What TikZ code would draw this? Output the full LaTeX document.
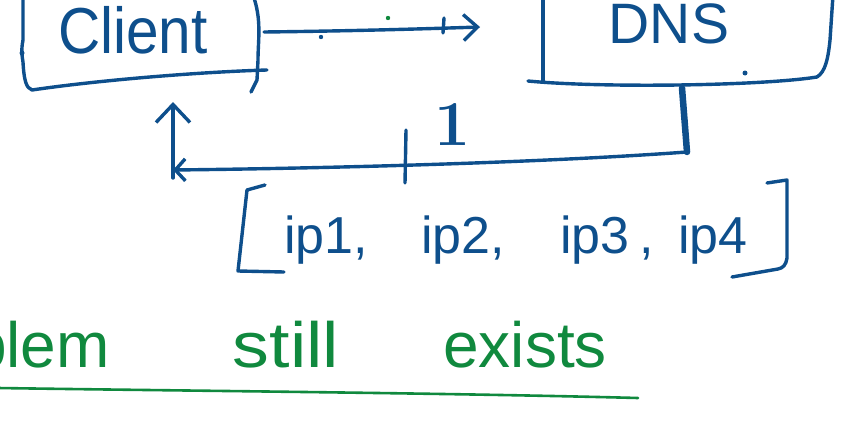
\documentclass[tikz,border=0pt]{standalone}
\usepackage{fontspec}
\newfontfamily\handfont{Liberation Sans}
\usetikzlibrary{arrows.meta}
\definecolor{ink}{RGB}{14,79,140}
\definecolor{inkgreen}{RGB}{16,137,62}
\tikzset{
  pen/.style={draw=ink, line width=3.4pt, line cap=round, line join=round},
  greenpen/.style={draw=inkgreen, line width=2.6pt, line cap=round, line join=round},
  hand/.style={text=ink, inner sep=0pt, font=\handfont\fontsize{#1}{#1}\selectfont},
  greenhand/.style={text=inkgreen, inner sep=0pt, font=\handfont\fontsize{#1}{#1}\selectfont},
  barb/.style={-{Straight Barb[length=14pt,width=26pt,line width=3.4pt]}},
  upbarb/.style={-{Straight Barb[length=18pt,width=34pt,line width=3.4pt]}},
  smallbarb/.style={-{Straight Barb[length=10pt,width=22pt,line width=3.4pt]}}
}
\begin{document}
\begin{tikzpicture}[x=1pt,y=-1pt]
\useasboundingbox (0,0) rectangle (850,428);

% ---- Client box (open at top) ----
\draw[pen] (23,-5) -- (23,40) .. controls (21,50) and (22,56) .. (23,62)
  .. controls (24,80) and (26,88) .. (32,90)
  .. controls (100,80) and (200,72) .. (267,70);
\draw[pen] (253,-5) .. controls (262,20) and (258,40) .. (258,60) -- (257,80) -- (251,92);
\fill[ink] (22,53) circle (2.5pt);
\node[hand=65, anchor=base, xscale=0.9] (client) at (133,53) {Client};

% ---- DNS box (open at top) ----
\draw[pen] (543,-5) -- (543,81);
\draw[pen] (528,81) .. controls (600,88) and (760,86) .. (817,77);
\draw[pen] (833,-5) -- (830,40) .. controls (828,60) and (825,72) .. (817,77);
\fill[ink] (745,73) circle (2.5pt);
\node[hand=57, anchor=base] (dns) at (669,44) {DNS};

% ---- connector coordinates ----
\coordinate (clientOut) at (264,32);
\coordinate (dnsIn) at (480,27);
\coordinate (dnsStubTop) at (682,88);
\coordinate (dnsStub) at (687,152);
\coordinate (corner) at (173,170);
\coordinate (clientIn) at (173,102);

% request arrow Client -> DNS
\draw[pen, barb] (clientOut) .. controls (350,31) and (420,29) .. (dnsIn);
\draw[pen] (444,18) -- (443,33);
\fill[ink] (321,37) circle (2.2pt);
\fill[inkgreen] (388,18) circle (2.2pt);

% response from DNS back to Client
\draw[ink, line width=6.5pt, line cap=round] (dnsStubTop) -- (dnsStub);
\draw[pen, smallbarb] (dnsStub) .. controls (550,162) and (350,168) .. (corner);
\draw[pen, upbarb] (173,178) -- (clientIn);
\draw[pen] (406,130) -- (405,183);

% label 1
\node[text=ink, inner sep=0pt, font=\bfseries\fontsize{64}{64}\selectfont, anchor=base] (one) at (453,145) {1};

% ---- list of IPs ----
\draw[pen] (265,185) -- (247,190) -- (238,271) -- (284,272);
\draw[pen] (767,183) -- (787,180) -- (787,258) .. controls (786,265) and (783,268) .. (778,269) -- (732,277);
\node[hand=52, anchor=base west] (ip1) at (284,253) {ip1,};
\node[hand=52, anchor=base west] (ip2) at (421,253) {ip2,};
\node[hand=52, anchor=base west] (ip3) at (560,253) {ip3\hspace{10pt},};
\node[hand=52, anchor=base west] (ip4) at (678,253) {ip4};

% ---- green text ----
\node[greenhand=64, anchor=base east] (blem) at (110,367) {blem};
\node[greenhand=64, anchor=base, xscale=1.15] (still) at (286,367) {still};
\node[greenhand=64, anchor=base] (exists) at (525,367) {exists};
\draw[greenpen] (-2,388) .. controls (200,391) and (450,393) .. (638,398);
\end{tikzpicture}
\end{document}
